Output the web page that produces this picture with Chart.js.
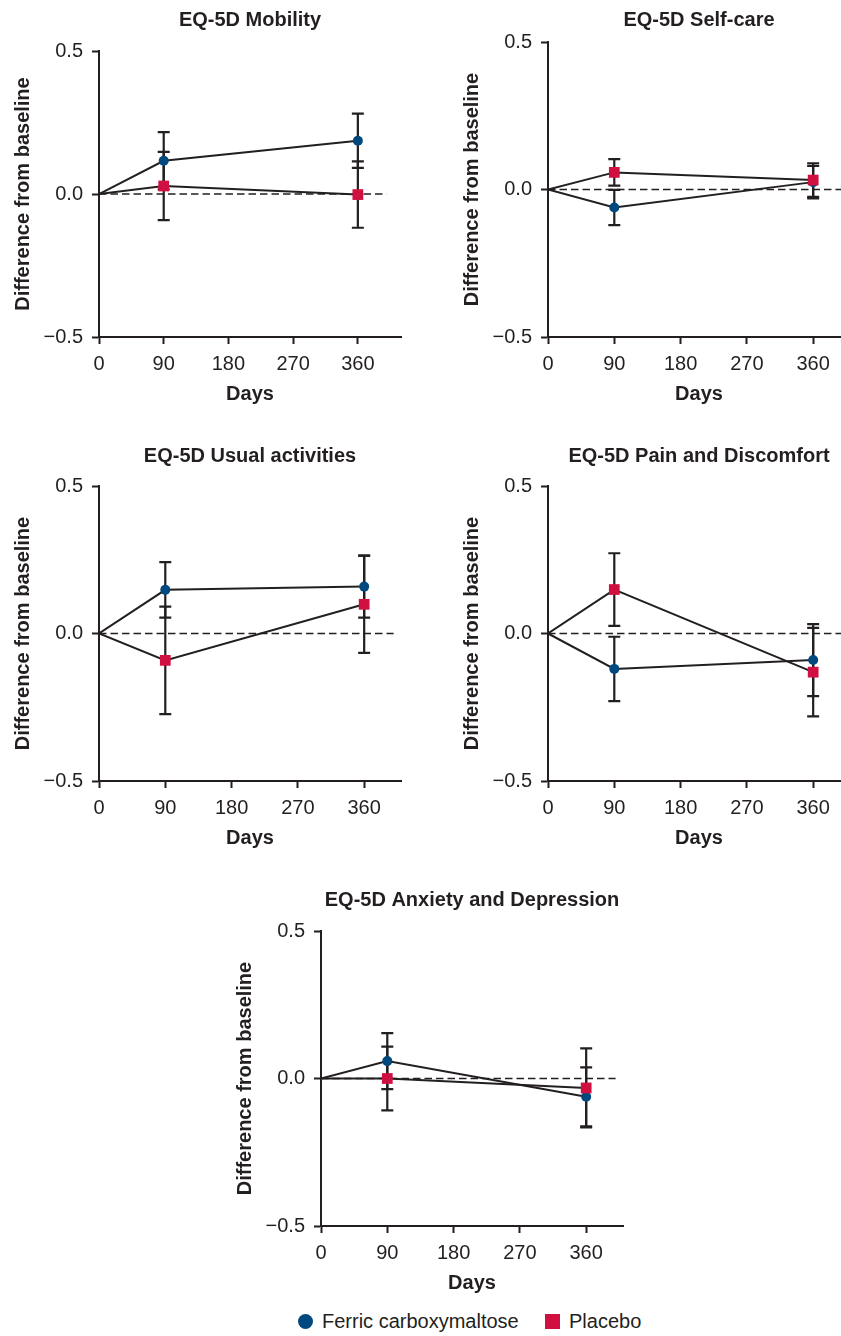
<!DOCTYPE html>
<html>
<head>
<meta charset="utf-8">
<script src="https://cdn.jsdelivr.net/npm/chart.js@4.4.1/dist/chart.umd.min.js"></script>
<style>
  html, body { margin: 0; padding: 0; background: #ffffff; width: 841px; height: 1336px; overflow: hidden; position: relative; }
  canvas.panel { position: absolute; }
  .legend { position: absolute; top: 1309px; height: 24px; display: flex; align-items: center; font-family: 'Liberation Sans', Arial, Helvetica, sans-serif; font-size: 20px; color: #231f20; white-space: nowrap; }
  .legend .sym { width: 15px; height: 15px; margin-right: 9px; flex: none; }
</style>
</head>
<body>
<div class="legend" style="left:298px"><span class="sym" style="background:#00497f;border-radius:50%"></span><span id="lg0"></span></div>
<div class="legend" style="left:545px"><span class="sym" style="background:#cf1041"></span><span id="lg1"></span></div>
<script>
// ---------------- DATA ----------------
const days = [0, 90, 360];
const xTicks = [0, 90, 180, 270, 360];
const yTicks = [-0.5, 0, 0.5];
const yTickLabels = ['\u22120.5', '0.0', '0.5'];
const refLineDays = [0, 400];
const refLineValues = [0, 0];
const seriesNames = ['Ferric carboxymaltose', 'Placebo'];
const panelTitles = ['EQ-5D Mobility', 'EQ-5D Self-care', 'EQ-5D Usual activities', 'EQ-5D Pain and Discomfort', 'EQ-5D Anxiety and Depression'];
const xAxisTitle = 'Days';
const yAxisTitle = 'Difference from baseline';

// Mean difference from baseline (value) and error-bar half width (err)
const fcmMobility      = [0, 0.116, 0.186];
const fcmMobilityErr   = [null, 0.100, 0.095];
const pboMobility      = [0, 0.028, -0.002];
const pboMobilityErr   = [null, 0.119, 0.116];

const fcmSelfCare      = [0, -0.061, 0.025];
const fcmSelfCareErr   = [null, 0.060, 0.055];
const pboSelfCare      = [0, 0.058, 0.032];
const pboSelfCareErr   = [null, 0.045, 0.057];

const fcmUsual         = [0, 0.148, 0.159];
const fcmUsualErr      = [null, 0.094, 0.105];
const pboUsual         = [0, -0.091, 0.099];
const pboUsualErr      = [null, 0.182, 0.165];

const fcmPain          = [0, -0.120, -0.090];
const fcmPainErr       = [null, 0.109, 0.122];
const pboPain          = [0, 0.149, -0.131];
const pboPainErr       = [null, 0.123, 0.150];

const fcmAnxiety       = [0, 0.059, -0.062];
const fcmAnxietyErr    = [null, 0.095, 0.100];
const pboAnxiety       = [0, 0.000, -0.032];
const pboAnxietyErr    = [null, 0.108, 0.134];

const panelSeries = [
  [fcmMobility, fcmMobilityErr, pboMobility, pboMobilityErr],
  [fcmSelfCare, fcmSelfCareErr, pboSelfCare, pboSelfCareErr],
  [fcmUsual, fcmUsualErr, pboUsual, pboUsualErr],
  [fcmPain, fcmPainErr, pboPain, pboPainErr],
  [fcmAnxiety, fcmAnxietyErr, pboAnxiety, pboAnxietyErr]
];
const xMaxes = [420, 410, 410, 410, 410];

// ---------------- LAYOUT (page pixels) ----------------
const layoutBoxes = [
  {L: 99,  R: 401, T: 51,  B: 337,  titleY: 20},
  {L: 548, R: 850, T: 42,  B: 337,  titleY: 20},
  {L: 99,  R: 401, T: 486, B: 781,  titleY: 456},
  {L: 548, R: 850, T: 486, B: 781,  titleY: 456},
  {L: 321, R: 623, T: 931, B: 1226, titleY: 900}
];
const Y_AXIS_W = 99, X_AXIS_H = 83, PAD_R = 12, TITLE_OFF = 20;

const INK = '#231f20';
const BLUE = '#00497f';
const RED = '#cf1041';
const FONT = "'Liberation Sans', Arial, Helvetica, sans-serif";

document.getElementById('lg0').textContent = seriesNames[0];
document.getElementById('lg1').textContent = seriesNames[1];

const errorBarPlugin = {
  id: 'errorBars',
  beforeDatasetsDraw(chart) {
    const ctx = chart.ctx, xs = chart.scales.x, ys = chart.scales.y;
    ctx.save();
    ctx.strokeStyle = INK;
    ctx.lineWidth = 2.2;
    chart.data.datasets.forEach(ds => {
      if (!ds.errors) return;
      ds.data.forEach((pt, i) => {
        const e = ds.errors[i];
        if (e == null) return;
        const x = xs.getPixelForValue(pt.x);
        const yTop = ys.getPixelForValue(pt.y + e);
        const yBot = ys.getPixelForValue(pt.y - e);
        ctx.beginPath();
        ctx.moveTo(x, yTop); ctx.lineTo(x, yBot);
        ctx.moveTo(x - 6, yTop); ctx.lineTo(x + 6, yTop);
        ctx.moveTo(x - 6, yBot); ctx.lineTo(x + 6, yBot);
        ctx.stroke();
      });
    });
    ctx.restore();
  }
};

const panelTitlePlugin = {
  id: 'panelTitle',
  afterDraw(chart, args, opts) {
    const ctx = chart.ctx, a = chart.chartArea;
    ctx.save();
    ctx.font = "bold 20px " + FONT;
    ctx.fillStyle = INK;
    ctx.textAlign = 'center';
    ctx.textBaseline = 'middle';
    ctx.fillText(opts.text, (a.left + a.right) / 2, opts.y);
    ctx.restore();
  }
};

function toPoints(vals) { return days.map((d, i) => ({x: d, y: vals[i]})); }

layoutBoxes.forEach((b, p) => {
  const cLeft = b.L - Y_AXIS_W;
  const cTop = b.titleY - TITLE_OFF;
  const cW = (b.R - b.L) + Y_AXIS_W + PAD_R;
  const cH = (b.B - cTop) + X_AXIS_H;
  const wrap = document.createElement('div');
  wrap.style.position = 'absolute';
  wrap.style.left = cLeft + 'px';
  wrap.style.top = cTop + 'px';
  wrap.style.width = cW + 'px';
  wrap.style.height = cH + 'px';
  const cv = document.createElement('canvas');
  cv.className = 'panel';
  cv.style.left = '0px';
  cv.style.top = '0px';
  cv.style.width = cW + 'px';
  cv.style.height = cH + 'px';
  cv.width = cW; cv.height = cH;
  wrap.appendChild(cv);
  document.body.appendChild(wrap);

  const [fcm, fcmErr, pbo, pboErr] = panelSeries[p];
  const radiusArr = days.map(d => d === 0 ? 0 : 5);
  const sqArr = days.map(d => d === 0 ? 0 : 7.6);

  new Chart(cv, {
    type: 'scatter',
    data: {
      datasets: [
        {
          label: 'ref',
          data: refLineDays.map((d, i) => ({x: d, y: refLineValues[i]})),
          showLine: true, borderColor: INK, borderWidth: 1.7, borderDash: [7.5, 4],
          pointRadius: 0, order: 3
        },
        {
          label: seriesNames[0],
          data: toPoints(fcm), errors: fcmErr,
          showLine: true, borderColor: INK, borderWidth: 2,
          pointStyle: 'circle', pointRadius: radiusArr, pointBackgroundColor: BLUE,
          pointBorderColor: BLUE, pointBorderWidth: 0, order: 2
        },
        {
          label: seriesNames[1],
          data: toPoints(pbo), errors: pboErr,
          showLine: true, borderColor: INK, borderWidth: 2,
          pointStyle: 'rect', pointRadius: sqArr, pointBackgroundColor: RED,
          pointBorderColor: RED, pointBorderWidth: 0, order: 1
        }
      ]
    },
    options: {
      responsive: false,
      animation: false,
      events: [],
      layout: { padding: { top: b.T - cTop, right: PAD_R, bottom: 0, left: 0 } },
      plugins: {
        legend: { display: false },
        tooltip: { enabled: false },
        title: { display: false },
        panelTitle: { text: panelTitles[p], y: TITLE_OFF }
      },
      scales: {
        x: {
          type: 'linear', min: 0, max: xMaxes[p],
          afterBuildTicks: s => { s.ticks = xTicks.map(v => ({value: v})); },
          afterFit: s => { s.height = X_AXIS_H; },
          grid: { display: true, drawOnChartArea: false, drawTicks: true, tickLength: 7, tickWidth: 2, tickColor: INK },
          border: { display: true, color: INK, width: 2 },
          ticks: { autoSkip: false, maxRotation: 0, padding: 8, color: INK, font: { family: FONT, size: 20 },
                   callback: v => String(v) },
          title: { display: true, text: xAxisTitle, color: INK, font: { family: FONT, size: 20, weight: 'bold' },
                   padding: { top: 0, bottom: 14 } }
        },
        y: {
          type: 'linear', min: -0.5, max: 0.5,
          afterBuildTicks: s => { s.ticks = yTicks.map(v => ({value: v})); },
          afterFit: s => { s.width = Y_AXIS_W; },
          grid: { display: true, drawOnChartArea: false, drawTicks: true, tickLength: 7, tickWidth: 2, tickColor: INK },
          border: { display: true, color: INK, width: 2 },
          ticks: { autoSkip: false, padding: 9, color: INK, font: { family: FONT, size: 20 },
                   callback: (v, i) => yTickLabels[i] },
          title: { display: true, text: yAxisTitle, color: INK, font: { family: FONT, size: 20, weight: 'bold' },
                   padding: { top: 11, bottom: 0 } }
        }
      }
    },
    plugins: [errorBarPlugin, panelTitlePlugin]
  });
});
</script>
</body>
</html>
